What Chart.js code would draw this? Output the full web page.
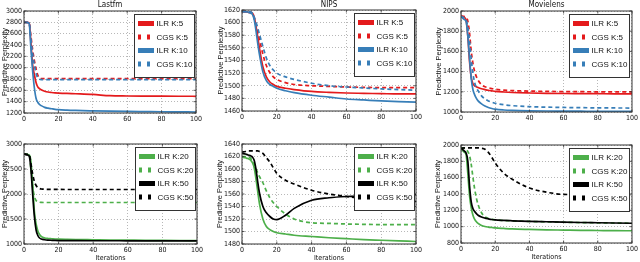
<!DOCTYPE html>
<html>
<head>
<meta charset="utf-8">
<script src="https://cdn.jsdelivr.net/npm/chart.js@4.4.1/dist/chart.umd.min.js"></script>
<style>
  html, body { margin: 0; padding: 0; background: #fff; }
  #wrap { position: relative; width: 640px; height: 262px; overflow: hidden; }
  #wrap canvas { position: absolute; left: 0; top: 0; }
</style>
</head>
<body>
<div id="wrap">
  <canvas id="c1" width="640" height="262"></canvas>
  <canvas id="c2" width="640" height="262"></canvas>
  <canvas id="c3" width="640" height="262"></canvas>
  <canvas id="c4" width="640" height="262"></canvas>
  <canvas id="c5" width="640" height="262"></canvas>
  <canvas id="c6" width="640" height="262"></canvas>
</div>
<script>
// iteraciones (mismo eje x para todos los paneles)
const iterations = [0, 2, 3, 4, 5, 6, 7, 8, 9, 10, 12, 14, 16, 18, 20, 25, 30, 40, 50, 60, 70, 80, 90, 100];

// Lastfm, K = 5 y 10
const lastfmIlrK5  = [2800, 2798, 2790, 2450, 2050, 1880, 1740, 1660, 1630, 1610, 1585, 1570, 1562, 1556, 1552, 1545, 1540, 1528, 1505, 1500, 1498, 1497, 1496, 1495];
const lastfmCgsK5  = [2800, 2798, 2792, 2560, 2320, 2130, 1980, 1870, 1815, 1805, 1805, 1805, 1805, 1805, 1805, 1805, 1805, 1805, 1805, 1805, 1805, 1805, 1805, 1805];
const lastfmIlrK10 = [2800, 2795, 2780, 2350, 1950, 1650, 1460, 1390, 1350, 1330, 1300, 1285, 1275, 1265, 1258, 1250, 1245, 1238, 1232, 1228, 1225, 1222, 1220, 1218];
const lastfmCgsK10 = [2800, 2798, 2790, 2500, 2250, 2050, 1900, 1820, 1795, 1790, 1790, 1790, 1790, 1790, 1790, 1790, 1790, 1790, 1790, 1790, 1790, 1790, 1790, 1790];

// NIPS, K = 5 y 10
const nipsIlrK5  = [1617, 1617, 1617, 1616, 1616, 1615, 1609, 1595, 1578, 1560, 1530, 1514, 1506, 1502, 1499, 1496, 1494, 1491, 1489.5, 1488.5, 1488, 1487.5, 1487, 1487];
const nipsCgsK5  = [1618, 1618, 1618, 1617, 1617, 1614, 1607, 1598, 1586, 1574, 1550, 1532, 1521, 1514, 1510, 1505, 1502, 1500, 1499, 1498, 1497.5, 1497, 1497, 1497];
const nipsIlrK10 = [1617, 1617, 1617, 1616, 1615, 1613, 1605, 1588, 1568, 1550, 1522, 1508, 1502, 1499, 1496, 1492, 1489, 1485, 1482, 1479, 1477.5, 1476, 1475, 1474];
const nipsCgsK10 = [1618, 1618, 1618, 1617, 1617, 1615, 1609, 1601, 1592, 1582, 1562, 1544, 1532, 1525, 1520, 1514, 1510, 1504, 1500, 1498, 1496.5, 1495, 1494, 1493];

// Movielens, K = 5 y 10
const movieIlrK5  = [1950, 1935, 1910, 1750, 1500, 1340, 1280, 1260, 1250, 1242, 1230, 1222, 1215, 1210, 1205, 1198, 1193, 1188, 1185, 1183, 1182, 1181, 1180, 1180];
const movieCgsK5  = [1950, 1945, 1935, 1900, 1780, 1600, 1480, 1400, 1350, 1315, 1270, 1250, 1240, 1232, 1225, 1217, 1212, 1207, 1204, 1202, 1201, 1200, 1200, 1200];
const movieIlrK10 = [1945, 1915, 1895, 1750, 1530, 1330, 1220, 1170, 1135, 1110, 1080, 1060, 1045, 1035, 1028, 1020, 1016, 1012, 1010, 1009, 1008, 1007, 1007, 1006];
const movieCgsK10 = [1950, 1930, 1910, 1840, 1700, 1520, 1380, 1290, 1240, 1210, 1160, 1130, 1110, 1097, 1087, 1072, 1063, 1053, 1048, 1045, 1043, 1041, 1040, 1039];

// Lastfm, K = 20 y 50
const lastfmIlrK20 = [2800, 2790, 2780, 2650, 2200, 1650, 1400, 1260, 1190, 1150, 1120, 1110, 1105, 1100, 1097, 1093, 1090, 1085, 1080, 1077, 1074, 1072, 1070, 1068];
const lastfmCgsK20 = [2800, 2795, 2790, 2500, 2150, 1950, 1870, 1845, 1835, 1832, 1830, 1830, 1830, 1830, 1830, 1830, 1830, 1830, 1830, 1830, 1830, 1830, 1830, 1830];
const lastfmIlrK50 = [2800, 2780, 2760, 2500, 2000, 1550, 1280, 1170, 1120, 1100, 1085, 1078, 1074, 1071, 1069, 1067, 1066, 1065, 1065, 1064, 1064, 1063, 1063, 1063];
const lastfmCgsK50 = [2800, 2795, 2790, 2600, 2400, 2250, 2170, 2130, 2110, 2100, 2095, 2093, 2092, 2092, 2091, 2090, 2090, 2090, 2090, 2090, 2090, 2090, 2090, 2090];

// NIPS, K = 20 y 50
const nipsIlrK20 = [1619, 1618, 1617, 1616, 1614, 1610, 1602, 1585, 1565, 1545, 1520, 1508, 1503, 1500, 1498, 1496, 1494, 1492, 1490, 1488.5, 1487, 1486, 1485, 1484];
const nipsCgsK20 = [1620, 1620, 1620, 1619, 1617, 1612, 1607, 1601, 1594, 1588, 1578, 1565, 1554, 1546, 1540, 1528, 1520, 1514, 1513, 1512, 1511.5, 1511, 1511, 1511];
const nipsIlrK50 = [1625, 1624, 1623, 1622, 1621, 1619, 1614, 1600, 1580, 1562, 1540, 1530, 1524, 1520, 1519, 1526, 1537, 1550, 1554, 1556, 1557, 1558, 1558, 1559];
const nipsCgsK50 = [1627, 1628, 1629, 1629, 1629, 1629, 1629, 1629, 1629, 1628, 1625, 1618, 1611, 1602, 1593, 1582, 1576, 1566, 1560, 1556, 1553, 1551, 1549, 1548];

// Movielens, K = 20 y 50
const movieIlrK20 = [1950, 1910, 1880, 1650, 1380, 1230, 1140, 1090, 1060, 1040, 1015, 1002, 995, 990, 985, 978, 972, 966, 961, 958, 955, 953, 951, 950];
const movieCgsK20 = [1965, 1960, 1950, 1920, 1870, 1760, 1600, 1460, 1350, 1270, 1170, 1120, 1100, 1090, 1083, 1076, 1071, 1064, 1059, 1054, 1050, 1047, 1044, 1041];
const movieIlrK50 = [1960, 1925, 1900, 1800, 1500, 1300, 1220, 1185, 1160, 1140, 1118, 1105, 1096, 1088, 1082, 1076, 1072, 1065, 1060, 1055, 1051, 1048, 1045, 1042];
const movieCgsK50 = [1960, 1965, 1966, 1966, 1966, 1966, 1966, 1966, 1966, 1965, 1960, 1948, 1910, 1850, 1780, 1655, 1580, 1473, 1422, 1395, 1393, 1391, 1390, 1390];

const labelsTop = ["ILR K:5", "CGS K:5", "ILR K:10", "CGS K:10"];
const labelsBottom = ["ILR K:20", "CGS K:20", "ILR K:50", "CGS K:50"];

const RED = "#e41a1c", BLUE = "#377eb8", GREEN = "#4daf4a", BLACK = "#000000";
const NARROW = '"Liberation Sans Narrow", "DejaVu Sans Condensed", "Liberation Sans", sans-serif';
const SANS = '"Liberation Sans", Arial, sans-serif';

// cada panel: caja del área de trazado [izq, arriba, der, abajo] en píxeles
const panels = [
  { id: "c1", title: "Lastfm", box: [24, 11, 196, 113], yTitleX: 5.5, yMin: 1200, yMax: 3000, yStep: 200, xTitle: false,
    labels: labelsTop, colors: [RED, RED, BLUE, BLUE], series: [lastfmIlrK5, lastfmCgsK5, lastfmIlrK10, lastfmCgsK10] },
  { id: "c2", title: "NIPS", box: [242, 10, 416, 111], yTitleX: 221.5, yMin: 1460, yMax: 1620, yStep: 20, xTitle: false,
    labels: labelsTop, colors: [RED, RED, BLUE, BLUE], series: [nipsIlrK5, nipsCgsK5, nipsIlrK10, nipsCgsK10] },
  { id: "c3", title: "Movielens", box: [461, 11, 633, 112], yTitleX: 439.5, yMin: 1000, yMax: 2000, yStep: 200, xTitle: false,
    labels: labelsTop, colors: [RED, RED, BLUE, BLUE], series: [movieIlrK5, movieCgsK5, movieIlrK10, movieCgsK10] },
  { id: "c4", title: "", box: [24, 144, 197, 244], yTitleX: 5.5, yMin: 1000, yMax: 3000, yStep: 500, xTitle: true,
    labels: labelsBottom, colors: [GREEN, GREEN, BLACK, BLACK], series: [lastfmIlrK20, lastfmCgsK20, lastfmIlrK50, lastfmCgsK50] },
  { id: "c5", title: "", box: [242, 144, 416, 244], yTitleX: 220.5, yMin: 1480, yMax: 1640, yStep: 20, xTitle: true,
    labels: labelsBottom, colors: [GREEN, GREEN, BLACK, BLACK], series: [nipsIlrK20, nipsCgsK20, nipsIlrK50, nipsCgsK50] },
  { id: "c6", title: "", box: [461, 145, 634, 243], yTitleX: 438.5, yMin: 800, yMax: 2000, yStep: 200, xTitle: true,
    labels: labelsBottom, colors: [GREEN, GREEN, BLACK, BLACK], series: [movieIlrK20, movieCgsK20, movieIlrK50, movieCgsK50] },
];

// marco, marcas hacia dentro, leyenda y título (estilo matplotlib)
const framePlugin = {
  id: "frame",
  afterDatasetsDraw(chart, args, opts) {
    const { ctx, chartArea: ca, scales } = chart;
    ctx.save();
    ctx.strokeStyle = "#333";
    ctx.lineWidth = 0.8;
    ctx.beginPath();
    scales.x.ticks.forEach((t, i) => {
      const px = scales.x.getPixelForTick(i);
      ctx.moveTo(px, ca.bottom); ctx.lineTo(px, ca.bottom - 2.5);
      ctx.moveTo(px, ca.top); ctx.lineTo(px, ca.top + 2.5);
    });
    scales.y.ticks.forEach((t, i) => {
      const py = scales.y.getPixelForTick(i);
      ctx.moveTo(ca.left, py); ctx.lineTo(ca.left + 2.5, py);
      ctx.moveTo(ca.right, py); ctx.lineTo(ca.right - 2.5, py);
    });
    ctx.stroke();
    ctx.lineWidth = 1;
    ctx.strokeRect(ca.left, ca.top, ca.right - ca.left, ca.bottom - ca.top);

    // leyenda
    const w = 60, h = 63;
    const lx = Math.round(ca.right - 2.5 - w), ly = Math.round(ca.top + 2.5);
    ctx.fillStyle = "#fff";
    ctx.fillRect(lx, ly, w, h);
    ctx.strokeStyle = "#333";
    ctx.strokeRect(lx + 0.5, ly + 0.5, w, h);
    ctx.font = "8px " + SANS;
    ctx.textBaseline = "middle";
    ctx.textAlign = "left";
    chart.data.datasets.forEach((ds, i) => {
      const y = ly + 9.5 + i * 13.5;
      ctx.save();
      ctx.beginPath();
      ctx.rect(lx + 3, y - 4, 17, 8);
      ctx.clip();
      ctx.strokeStyle = ds.borderColor;
      ctx.lineWidth = 5;
      ctx.setLineDash(ds.borderDash.length ? [3, 6] : []);
      ctx.beginPath();
      ctx.moveTo(lx + 4, y); ctx.lineTo(lx + 20, y);
      ctx.stroke();
      ctx.restore();
      ctx.fillStyle = "#111";
      ctx.fillText(ds.label, lx + 22.5, y + 0.5);
    });

    if (opts.text) {
      ctx.font = "8px " + NARROW;
      ctx.textAlign = "center";
      ctx.fillStyle = "#111";
      ctx.fillText(opts.text, (ca.left + ca.right) / 2, 5);
    }
    ctx.restore();
  }
};

panels.forEach((p) => {
  const [left, top, right, bottom] = p.box;
  const padLeft = p.yTitleX - 4.8;
  const xh = p.xTitle ? 18 : 10;

  new Chart(document.getElementById(p.id), {
    type: "line",
    data: {
      datasets: p.series.map((vals, i) => ({
        label: p.labels[i],
        data: vals.map((v, j) => ({ x: iterations[j], y: v })),
        borderColor: p.colors[i],
        borderWidth: 1.7,
        borderDash: i % 2 ? [4, 3] : [],
        pointRadius: 0,
        fill: false,
        cubicInterpolationMode: "monotone",
        order: 4 - i,
      })),
    },
    options: {
      responsive: false,
      animation: false,
      devicePixelRatio: 1,
      layout: { padding: { left: padLeft, top: top, right: 640 - right, bottom: 262 - bottom - xh } },
      plugins: {
        legend: { display: false },
        tooltip: { enabled: false },
        frame: { text: p.title },
      },
      scales: {
        x: {
          type: "linear",
          min: 0,
          max: 100,
          ticks: { stepSize: 20, color: "#111", padding: 2, font: { family: NARROW, size: 7 }, maxRotation: 0,
                   callback: (v) => String(v) },
          grid: { color: "rgba(0,0,0,0.4)", lineWidth: 0.7, drawTicks: false },
          border: { display: false, dash: [1, 2] },
          title: { display: p.xTitle, text: "Iterations", color: "#111", padding: 0, font: { family: NARROW, size: 7 } },
          afterFit: (s) => { s.height = xh; },
        },
        y: {
          min: p.yMin,
          max: p.yMax,
          ticks: { stepSize: p.yStep, color: "#111", padding: 2, autoSkip: false, font: { family: NARROW, size: 7 },
                   callback: (v) => String(v) },
          grid: { color: "rgba(0,0,0,0.4)", lineWidth: 0.7, drawTicks: false },
          border: { display: false, dash: [1, 2] },
          title: { display: true, text: "Predictive Perplexity", color: "#111", padding: 0, font: { family: SANS, size: 7.5 } },
          afterFit: (s) => { s.width = left - padLeft; },
        },
      },
    },
    plugins: [framePlugin],
  });
});
</script>
</body>
</html>
